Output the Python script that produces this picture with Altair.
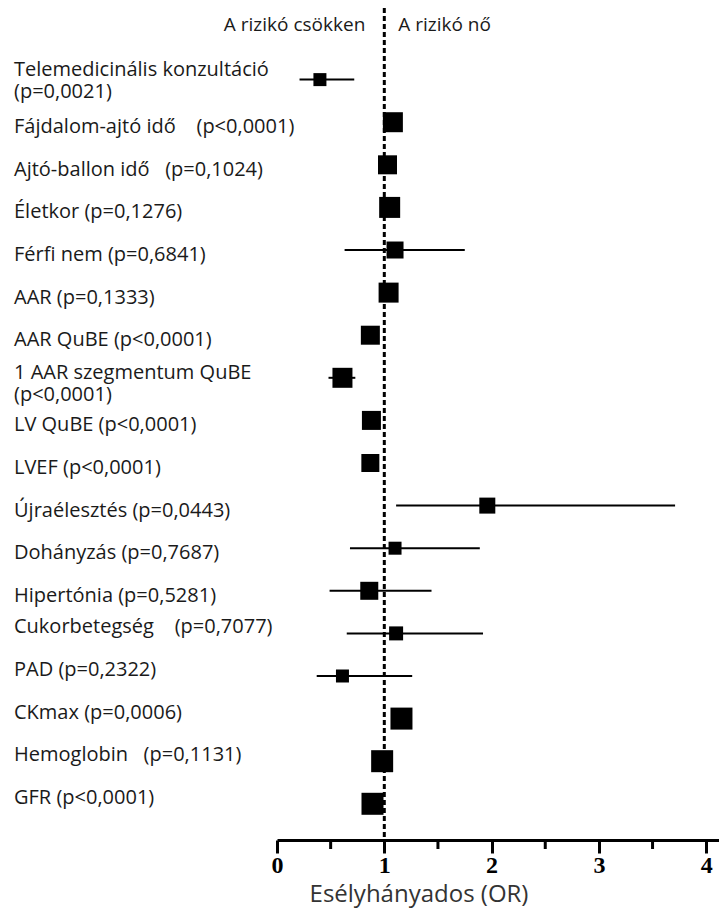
import altair as alt
import pandas as pd

NB = "\u00a0"

labels = [
    "Telemedicinális konzultáció\n(p=0,0021)",
    "Fájdalom-ajtó idő" + NB * 4 + "(p<0,0001)",
    "Ajtó-ballon idő" + NB * 3 + "(p=0,1024)",
    "Életkor (p=0,1276)",
    "Férfi nem (p=0,6841)",
    "AAR (p=0,1333)",
    "AAR QuBE (p<0,0001)",
    "1 AAR szegmentum QuBE\n(p<0,0001)",
    "LV QuBE (p<0,0001)",
    "LVEF (p<0,0001)",
    "Újraélesztés (p=0,0443)",
    "Dohányzás (p=0,7687)",
    "Hipertónia (p=0,5281)",
    "Cukorbetegség" + NB * 4 + "(p=0,7077)",
    "PAD (p=0,2322)",
    "CKmax (p=0,0006)",
    "Hemoglobin" + NB * 3 + "(p=0,1131)",
    "GFR (p<0,0001)",
]
odds_ratio = [0.40, 1.08, 1.03, 1.05, 1.10, 1.04, 0.87, 0.61, 0.88, 0.87,
              1.96, 1.10, 0.86, 1.11, 0.61, 1.16, 0.98, 0.89]
ci_low = [0.21, 1.05, 1.00, 1.02, 0.63, 1.01, 0.84, 0.48, 0.85, 0.84,
          1.11, 0.68, 0.49, 0.65, 0.37, 1.08, 0.95, 0.86]
ci_high = [0.72, 1.12, 1.06, 1.08, 1.75, 1.07, 0.90, 0.73, 0.91, 0.90,
           3.71, 1.89, 1.44, 1.92, 1.26, 1.24, 1.01, 0.92]
weight = [13, 20, 19, 21, 17, 20, 19, 20, 19, 18, 16, 13, 18, 14, 13, 22, 22, 22]
row = list(range(len(labels)))

major_ticks = [0, 1, 2, 3, 4]
minor_ticks = [0.5, 1.5, 2.5, 3.5]
reference_or = [1.0]
header_left = "A rizikó csökken"
header_right = "A rizikó nő"
x_title = "Esélyhányados (OR)"

df = pd.DataFrame({"label": labels, "or_": odds_ratio, "lo": ci_low,
                   "hi": ci_high, "w": weight, "row": row})
df["lines"] = df["label"].str.count("\n") + 1
ref_df = pd.DataFrame({"ref": reference_or})
minor_df = pd.DataFrame({"t": minor_ticks})

W, H = 442, 840
PX = 107.3  # pixels per OR unit
x_scale = alt.Scale(domain=[0, W / PX], nice=False, zero=False)
y_scale = alt.Scale(domain=[-1.869, 17.85], reverse=True, nice=False, zero=False)

xaxis = alt.Axis(
    values=major_ticks, format="d",
    labelFont="Liberation Serif", labelFontWeight="bold", labelFontSize=24,
    labelColor="black", labelPadding=0, labelFlush=False, labelOverlap=False,
    domainColor="black", domainWidth=3,
    tickColor="black", tickWidth=3, tickSize=13, grid=False,
    title=x_title, titleFont="Open Sans", titleFontSize=24,
    titleFontWeight="normal", titleColor="#333333",
    titleX=141.5, titleY=61, titleBaseline="alphabetic",
)


def X(field):
    return alt.X(field, scale=x_scale, axis=xaxis)


Y = alt.Y("row:Q", scale=y_scale, axis=None)

ref_line = alt.Chart(ref_df).mark_rule(
    strokeDash=[5, 3], strokeWidth=3, color="black"
).encode(x=X("ref:Q"), y=alt.value(0), y2=alt.value(H))

ci = alt.Chart(df).mark_rule(color="black", strokeWidth=2).encode(
    x=X("lo:Q"), x2="hi:Q", y=Y
)

squares = alt.Chart(df).mark_square(color="black", opacity=1, filled=True).encode(
    x=X("or_:Q"), y=Y,
    size=alt.Size("w:Q", scale=alt.Scale(type="pow", exponent=2, domain=[0, 20], range=[0, 400]),
                  legend=None),
)

text_style = dict(align="left", baseline="middle", font="Open Sans", fontSize=20,
                  lineBreak="\n", lineHeight=22, color="#1a1a1a")


def label_layer(cond, dy):
    return alt.Chart(df).transform_filter(cond).mark_text(dy=dy, **text_style).encode(
        x=alt.value(-263), y=Y, text="label:N")


text_a = label_layer("datum.lines == 2 && datum.row < 5", -10)
text_b = label_layer("datum.lines == 2 && datum.row >= 5", -5)
text_c = label_layer("datum.lines == 1 && datum.row <= 12", 5)
text_d = label_layer("datum.lines == 1 && datum.row > 12", -6)

hdr_l = alt.Chart(ref_df).mark_text(
    align="right", baseline="middle", font="Open Sans", fontSize=19,
    dx=-19, color="#1a1a1a", text=header_left
).encode(x=X("ref:Q"), y=alt.value(25))

hdr_r = alt.Chart(ref_df).mark_text(
    align="left", baseline="middle", font="Open Sans", fontSize=19,
    dx=14, color="#1a1a1a", text=header_right
).encode(x=X("ref:Q"), y=alt.value(25))

minor = alt.Chart(minor_df).mark_rule(strokeWidth=3, color="black").encode(
    x=X("t:Q"), y=alt.value(H), y2=alt.value(H + 9)
)

chart = alt.layer(ref_line, ci, squares, text_a, text_b, text_c, text_d,
                  hdr_l, hdr_r, minor).properties(
    width=W, height=H,
    padding={"left": 269, "top": -8, "right": 0, "bottom": 68},
    autosize=alt.AutoSizeParams(type="none"),
).configure_view(stroke=None)

chart.save("out.html", embed_options={"renderer": "svg", "actions": False})
